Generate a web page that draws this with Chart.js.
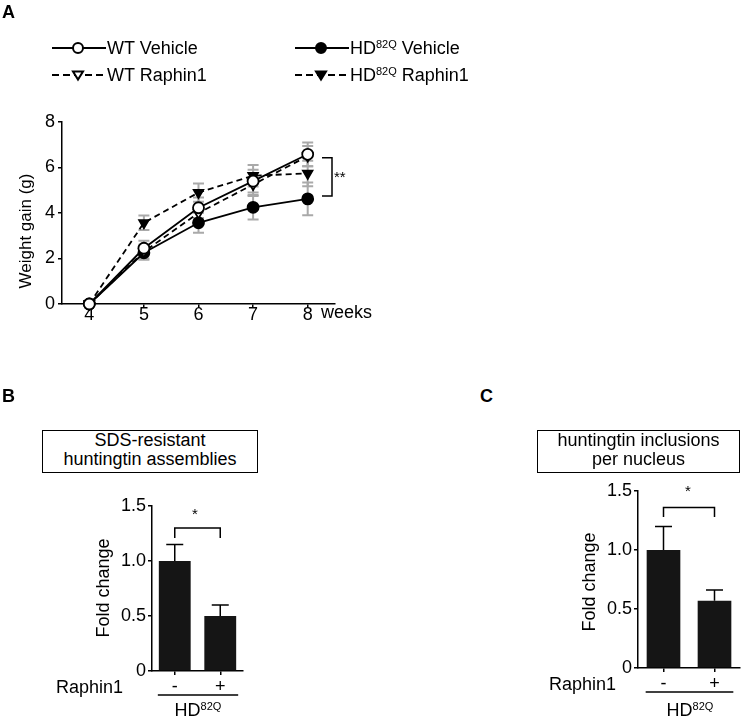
<!DOCTYPE html>
<html>
<head>
<meta charset="utf-8">
<script src="https://cdn.jsdelivr.net/npm/chart.js@4.4.1/dist/chart.umd.min.js"></script>
<style>
body { margin: 0; background: #fff; }
#page { position: relative; width: 747px; height: 717px; overflow: hidden; font-family: 'Liberation Sans', Arial, sans-serif; font-size: 18px; color: #000; }
canvas { position: absolute; }
.txt { position: absolute; white-space: nowrap; line-height: 20px; }
.panel { font-weight: bold; font-size: 18px; }
.sup { font-size: 11px; position: relative; top: -6px; }
.ytitle { position: absolute; width: 200px; height: 20px; line-height: 20px; text-align: center; transform: rotate(-90deg); white-space: nowrap; }
.box { position: absolute; border: 1.5px solid #000; box-sizing: border-box; text-align: center; line-height: 19px; }
</style>
</head>
<body>
<div id="page">
    <canvas id="canvasA" width="400" height="330" style="left:0px; top:0px;"></canvas>
    <canvas id="canvasB" width="200" height="237" style="left:60px; top:480px;"></canvas>
    <canvas id="canvasC" width="227" height="247" style="left:520px; top:470px;"></canvas>

    <!-- panel A texts -->
    <div class="txt panel" style="left:2px; top:2px;">A</div>
    <div class="txt" style="left:107px; top:38px;">WT Vehicle</div>
    <div class="txt" style="left:350px; top:38px;">HD<span class="sup">82Q</span> Vehicle</div>
    <div class="txt" style="left:107px; top:65px;">WT Raphin1</div>
    <div class="txt" style="left:350px; top:65px;">HD<span class="sup">82Q</span> Raphin1</div>
    <div class="ytitle" style="left:-74px; top:221px; font-size:17px;">Weight gain (g)</div>
    <div class="txt" style="left:321px; top:302px;">weeks</div>
    <div class="txt" style="left:334px; top:167px; font-size:15px;">**</div>

    <!-- panel B texts -->
    <div class="txt panel" style="left:2px; top:386px;">B</div>
    <div class="box" style="left:42px; top:430px; width:216px; height:43px;">SDS-resistant<br>huntingtin assemblies</div>
    <div class="ytitle" style="left:3px; top:578px;">Fold change</div>
    <div class="txt" style="left:192px; top:504px; font-size:15px;">*</div>
    <div class="txt" style="left:23px; top:677px; width:100px; text-align:right;">Raphin1</div>
    <div class="txt" style="left:148px; top:700px; width:100px; text-align:center;">HD<span class="sup">82Q</span></div>

    <!-- panel C texts -->
    <div class="txt panel" style="left:480px; top:386px;">C</div>
    <div class="box" style="left:537px; top:430px; width:203px; height:43px;">huntingtin inclusions<br>per nucleus</div>
    <div class="ytitle" style="left:489px; top:572px;">Fold change</div>
    <div class="txt" style="left:685px; top:481px; font-size:15px;">*</div>
    <div class="txt" style="left:549px; top:674px;">Raphin1</div>
    <div class="txt" style="left:640px; top:700px; width:100px; text-align:center;">HD<span class="sup">82Q</span></div>
</div>

<script>
// ---- data: panel A (weight gain, g) ----
var weeks = [4, 5, 6, 7, 8];
var weightTicks = [0, 2, 4, 6, 8];
var wtVehicle = [0, 2.45, 4.23, 5.4, 6.58];
var wtVehicleErr = [0, 0.33, 0.45, 0.5, 0.52];
var wtRaphin = [0, 2.3, 4.0, 5.25, 6.5];
var wtRaphinErr = [0, 0.3, 0.3, 0.5, 0.45];
var hdVehicle = [0, 2.25, 3.57, 4.25, 4.62];
var hdVehicleErr = [0, 0.3, 0.44, 0.54, 0.72];
var hdRaphin = [0, 3.57, 4.9, 5.64, 5.74];
var hdRaphinErr = [0, 0.32, 0.4, 0.47, 0.56];
var sigA = [6.43, 4.75];

// ---- data: panels B and C (fold change) ----
var treatment = ['-', '+'];
var foldTicks = [0, 0.5, 1.0, 1.5];
var assemblies = [1.0, 0.5];
var assembliesErr = [0.15, 0.1];
var inclusions = [1.0, 0.57];
var inclusionsErr = [0.2, 0.09];
var sigB = [1.3, 1.21];
var sigC = [1.36, 1.28];

Chart.defaults.font.family = "'Liberation Sans', Arial, sans-serif";
Chart.defaults.font.size = 18;
Chart.defaults.color = '#000';

function lineSet(label, values, errs, dashed, style, filled){
    return {
        label: label,
        data: weeks.map(function(w, i){ return {x: w, y: values[i]}; }),
        errors: errs,
        borderColor: '#000',
        borderWidth: 1.8,
        borderDash: dashed ? [6, 4] : [],
        pointStyle: style,
        pointRotation: style === 'triangle' ? 180 : 0,
        pointRadius: 5.5,
        pointBorderWidth: 1.8,
        pointBackgroundColor: filled ? '#000' : '#fff',
        pointBorderColor: '#000',
        fill: false,
        tension: 0,
        clip: false
    };
}

function drawMarker(ctx, style, x, y, r, filled){
    ctx.beginPath();
    if(style === 'circle'){
        ctx.arc(x, y, r, 0, Math.PI * 2);
    } else {
        ctx.moveTo(x - r, y - r * 0.7);
        ctx.lineTo(x + r, y - r * 0.7);
        ctx.lineTo(x, y + r * 0.9);
        ctx.closePath();
    }
    ctx.fillStyle = filled ? '#000' : '#fff';
    ctx.fill();
    ctx.stroke();
}

var lineErrorBars = {
    id: 'lineErrorBars',
    beforeDatasetsDraw: function(chart){
        var ctx = chart.ctx;
        var xs = chart.scales.x;
        var ys = chart.scales.y;
        ctx.save();
        ctx.strokeStyle = '#a9a9a9';
        ctx.lineWidth = 2;
        chart.data.datasets.forEach(function(ds){
            ds.data.forEach(function(p, i){
                var e = ds.errors[i];
                if(!e) return;
                var px = xs.getPixelForValue(p.x);
                var top = ys.getPixelForValue(p.y + e);
                var bot = ys.getPixelForValue(p.y - e);
                ctx.beginPath();
                ctx.moveTo(px, top); ctx.lineTo(px, bot);
                ctx.moveTo(px - 5.5, top); ctx.lineTo(px + 5.5, top);
                ctx.moveTo(px - 5.5, bot); ctx.lineTo(px + 5.5, bot);
                ctx.stroke();
            });
        });
        ctx.restore();
    },
    afterDraw: function(chart){
        var ctx = chart.ctx;
        var xs = chart.scales.x;
        var ys = chart.scales.y;
        // significance bracket at the right end
        var bx = xs.right - 3;
        var y1 = ys.getPixelForValue(sigA[0]);
        var y2 = ys.getPixelForValue(sigA[1]);
        ctx.save();
        ctx.strokeStyle = '#000';
        ctx.lineWidth = 1.5;
        ctx.beginPath();
        ctx.moveTo(bx - 10, y1); ctx.lineTo(bx, y1); ctx.lineTo(bx, y2); ctx.lineTo(bx - 10, y2);
        ctx.stroke();

        // legend samples
        var spots = [[52, 48], [52, 75], [295, 75], [295, 48]];
        chart.data.datasets.forEach(function(ds, i){
            var x0 = spots[i][0];
            var y0 = spots[i][1];
            ctx.lineWidth = 2;
            ctx.setLineDash(ds.borderDash.length ? [7, 4] : []);
            ctx.beginPath();
            ctx.moveTo(x0, y0); ctx.lineTo(x0 + 54, y0);
            ctx.stroke();
            ctx.setLineDash([]);
            drawMarker(ctx, ds.pointStyle, x0 + 26, y0, 5, ds.pointBackgroundColor === '#000');
        });
        ctx.restore();
    }
};

function axisGrid(){
    return {display: true, drawOnChartArea: false, drawTicks: true, tickLength: 4, color: '#000', lineWidth: 1.5};
}

new Chart(document.getElementById('canvasA').getContext('2d'), {
    type: 'line',
    data: {
        datasets: [
            lineSet('WT Vehicle', wtVehicle, wtVehicleErr, false, 'circle', false),
            lineSet('WT Raphin1', wtRaphin, wtRaphinErr, true, 'triangle', false),
            lineSet('HD82Q Raphin1', hdRaphin, hdRaphinErr, true, 'triangle', true),
            lineSet('HD82Q Vehicle', hdVehicle, hdVehicleErr, false, 'circle', true)
        ]
    },
    options: {
        responsive: false,
        animation: false,
        devicePixelRatio: 1,
        layout: {padding: {top: 122, left: 0, right: 65, bottom: 0}},
        plugins: {legend: {display: false}, tooltip: {enabled: false}},
        scales: {
            x: {
                type: 'linear', min: 3.5, max: 8.5,
                afterBuildTicks: function(s){ s.ticks = weeks.map(function(v){ return {value: v}; }); },
                afterFit: function(s){ s.height = 26; },
                grid: axisGrid(),
                border: {display: true, color: '#000', width: 1.5},
                ticks: {autoSkip: false, maxRotation: 0, padding: -2, font: {lineHeight: 1}}
            },
            y: {
                min: 0, max: 8,
                afterBuildTicks: function(s){ s.ticks = weightTicks.map(function(v){ return {value: v}; }); },
                afterFit: function(s){ s.width = 62; },
                grid: axisGrid(),
                border: {display: true, color: '#000', width: 1.5},
                ticks: {autoSkip: false, padding: 3}
            }
        }
    },
    plugins: [lineErrorBars]
});

var barExtras = {
    id: 'barExtras',
    afterDatasetsDraw: function(chart){
        var ctx = chart.ctx;
        var ys = chart.scales.y;
        var ds = chart.data.datasets[0];
        var bars = chart.getDatasetMeta(0).data;
        ctx.save();
        ctx.strokeStyle = '#000';
        ctx.lineWidth = 1.5;
        // upper error bars
        bars.forEach(function(bar, i){
            var top = ys.getPixelForValue(ds.data[i] + ds.errors[i]);
            ctx.beginPath();
            ctx.moveTo(bar.x, bar.y); ctx.lineTo(bar.x, top);
            ctx.moveTo(bar.x - 8.5, top); ctx.lineTo(bar.x + 8.5, top);
            ctx.stroke();
        });
        // significance bracket
        var y1 = ys.getPixelForValue(ds.sig[0]);
        var y2 = ys.getPixelForValue(ds.sig[1]);
        ctx.beginPath();
        ctx.moveTo(bars[0].x, y2); ctx.lineTo(bars[0].x, y1);
        ctx.lineTo(bars[1].x, y1); ctx.lineTo(bars[1].x, y2);
        ctx.stroke();
        // group underline
        var uy = chart.chartArea.bottom + 24;
        ctx.beginPath();
        ctx.moveTo(bars[0].x - bars[0].width / 2 - 1, uy);
        ctx.lineTo(bars[1].x + bars[1].width / 2 + 2, uy);
        ctx.stroke();
        ctx.restore();
    }
};

function barChart(canvasId, values, errs, sig, padTop, padRight, yWidth, xHeight, barPct){
    return new Chart(document.getElementById(canvasId).getContext('2d'), {
        type: 'bar',
        data: {
            labels: treatment,
            datasets: [{
                data: values,
                errors: errs,
                sig: sig,
                backgroundColor: '#151515',
                borderWidth: 0,
                barPercentage: barPct,
                categoryPercentage: 1.0
            }]
        },
        options: {
            responsive: false,
            animation: false,
            devicePixelRatio: 1,
            layout: {padding: {top: padTop, left: 0, right: padRight, bottom: 0}},
            plugins: {legend: {display: false}, tooltip: {enabled: false}},
            scales: {
                x: {
                    offset: true,
                    afterFit: function(s){ s.height = xHeight; },
                    grid: {display: true, offset: false, drawOnChartArea: false, drawTicks: true, tickLength: 4, color: '#000', lineWidth: 1.5},
                    border: {display: true, color: '#000', width: 1.5},
                    ticks: {padding: 3, font: {lineHeight: 1}}
                },
                y: {
                    min: 0, max: 1.5,
                    afterBuildTicks: function(s){ s.ticks = foldTicks.map(function(v){ return {value: v}; }); },
                    afterFit: function(s){ s.width = yWidth; },
                    grid: axisGrid(),
                    border: {display: true, color: '#000', width: 1.5},
                    ticks: {
                        autoSkip: false, padding: 2,
                        callback: function(v){ return v === 0 ? '0' : v.toFixed(1); }
                    }
                }
            }
        },
        plugins: [barExtras]
    });
}

barChart('canvasB', assemblies, assembliesErr, sigB, 26, 17, 92, 46, 0.7);
barChart('canvasC', inclusions, inclusionsErr, sigC, 21, 7, 118, 49, 0.66);
</script>
</body>
</html>
